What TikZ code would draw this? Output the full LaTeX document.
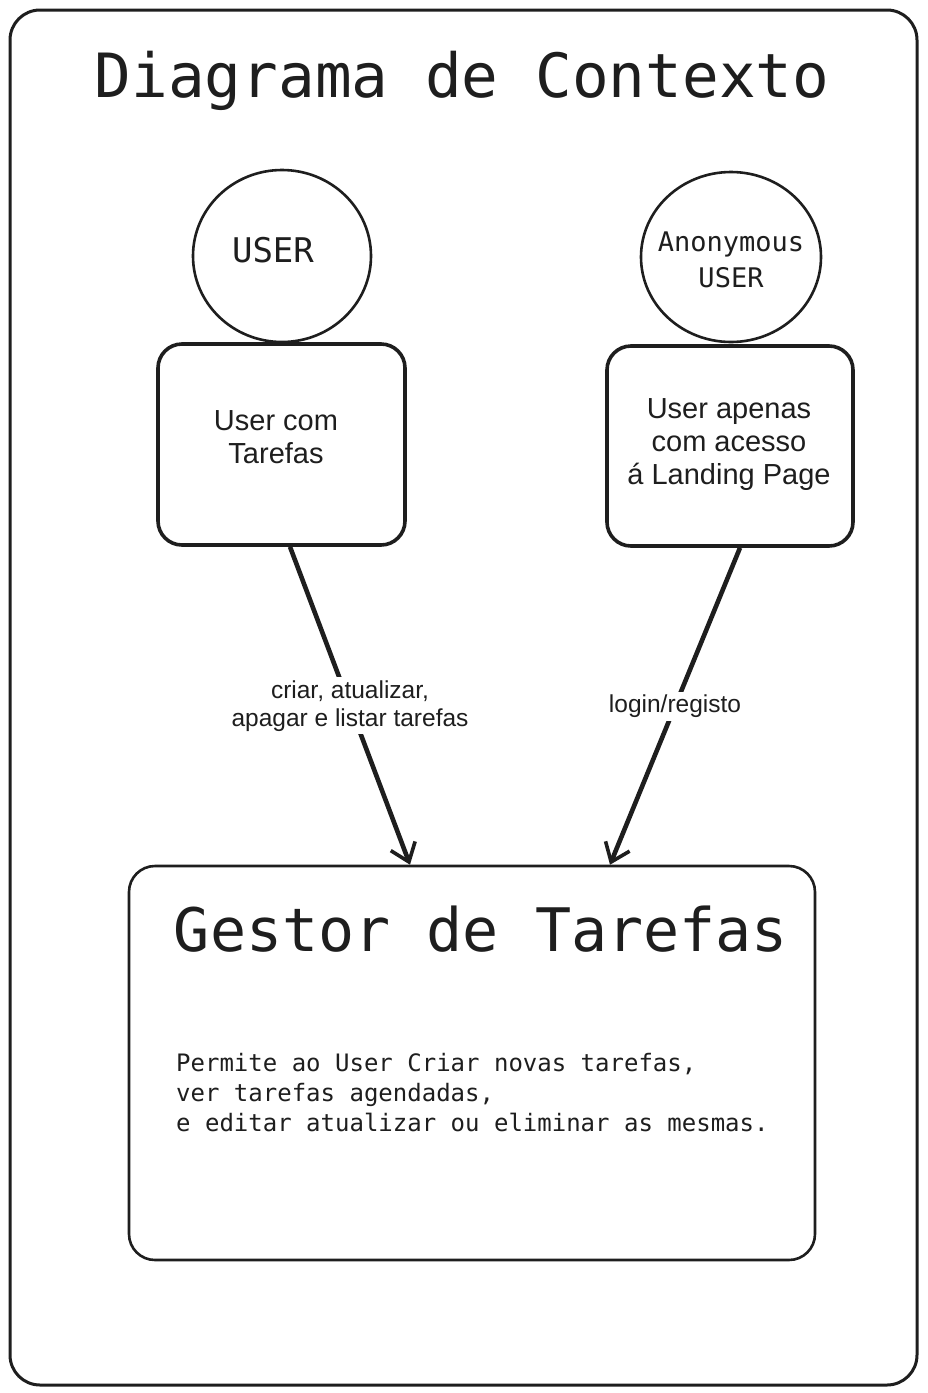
\documentclass[tikz,border=0pt]{standalone}
\usepackage{fontspec}
\setmainfont{Liberation Sans}
\newfontfamily\mono{DejaVu Sans Mono}
\usetikzlibrary{shapes.geometric,arrows.meta,calc}
\definecolor{ink}{HTML}{1E1E1E}
\tikzset{
  frame/.style={draw=ink, line width=3pt, rounded corners=30pt},
  actor/.style={draw=ink, line width=2.6pt, ellipse, inner sep=0pt},
  rolebox/.style={draw=ink, line width=3.6pt, rounded corners=24pt, rectangle, inner sep=0pt},
  roletext/.style={text=ink, inner sep=0pt, align=center, font=\fontsize{29}{33}\selectfont},
  sysbox/.style={draw=ink, line width=2.6pt, rounded corners=26pt, rectangle, inner sep=0pt},
  flow/.style={draw=ink, line width=4.6pt, -{Straight Barb[length=17pt,width=26pt,line width=3.6pt]}},
  flowlabel/.style={fill=white, text=ink, align=center, inner sep=3pt, font=\fontsize{24.5}{28}\selectfont}
}
\begin{document}
\begin{tikzpicture}[x=1pt,y=-1pt]
\useasboundingbox[fill=white] (0,0) rectangle (927,1393);
\node[frame, minimum width=907pt, minimum height=1375pt, rectangle] (frame) at (463.5,697.5) {};
\node[text=ink, inner sep=0pt, font=\mono\fontsize{61}{61}\selectfont] (title) at (462,81) {Diagrama de Contexto};

\node[actor, minimum width=178pt, minimum height=172pt] (user) at (282,256) {};
\node[text=ink, inner sep=0pt, font=\mono\fontsize{34}{34}\selectfont] (usert) at (273,250) {USER};
\node[actor, minimum width=180pt, minimum height=170pt] (anon) at (731,257) {};
\node[text=ink, inner sep=0pt, align=center, font=\mono\fontsize{27}{36}\selectfont] (anont) at (731,260) {Anonymous\\USER};

\node[rolebox, minimum width=247pt, minimum height=201pt] (b1) at (281.5,444.5) {};
\node[roletext] (b1t) at (276,437) {User com\\Tarefas};
\node[rolebox, minimum width=246pt, minimum height=200pt] (b2) at (730,446) {};
\node[roletext] (b2t) at (729,445) {User apenas\\com acesso\\á Landing Page};

\node[sysbox, minimum width=686pt, minimum height=394pt] (sys) at (472,1063) {};
\node[text=ink, inner sep=0pt, font=\mono\fontsize{60}{60}\selectfont] (syst) at (481,929) {Gestor de Tarefas};
\node[text=ink, inner sep=0pt, anchor=west, align=left, font=\mono\fontsize{24}{30}\selectfont] (sysd) at (176,1093) {Permite ao User Criar novas tarefas,\\ver tarefas agendadas,\\e editar atualizar ou eliminar as mesmas.};

\draw[flow] ([xshift=8.5pt]b1.south) -- node[flowlabel] {criar, atualizar,\\apagar e listar tarefas} ([xshift=-62pt]sys.north);
\draw[flow] ([xshift=10pt]b2.south) -- node[flowlabel] {login/registo} ([xshift=138pt]sys.north);
\end{tikzpicture}
\end{document}
